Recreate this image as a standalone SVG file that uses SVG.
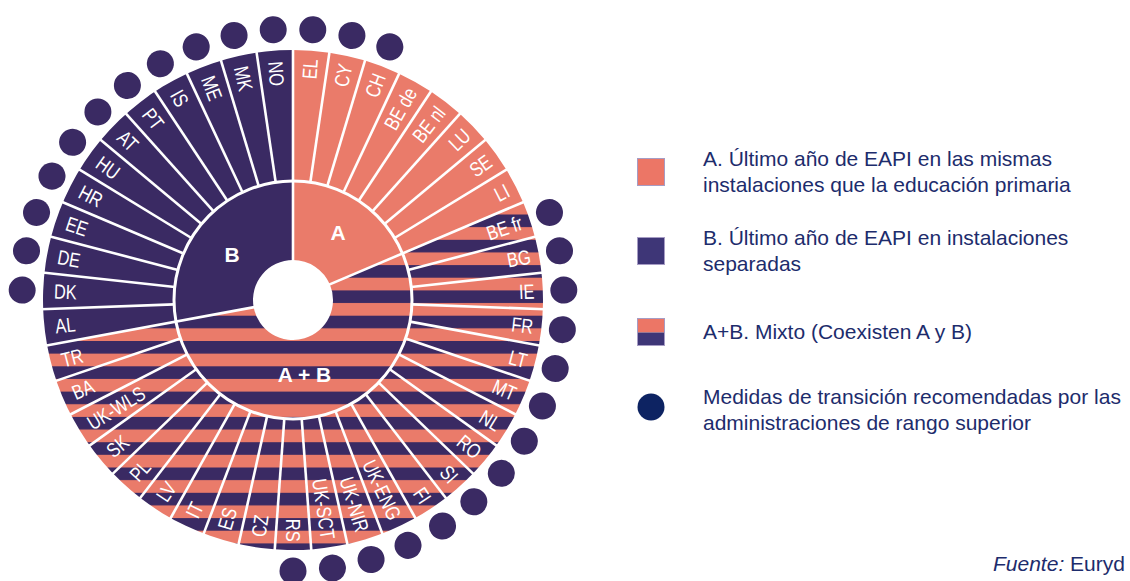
<svg xmlns="http://www.w3.org/2000/svg" xmlns:xlink="http://www.w3.org/1999/xlink" width="1130" height="581" viewBox="0 0 1130 581">
<style>
.a{fill:#EA7B6A}
.b{fill:#3A2A63}
.sepl{stroke:#fff;stroke-width:2.6}
.lbl{font-family:"Liberation Sans",Arial,sans-serif;font-size:20.5px;fill:#fff}
.big{font-family:"Liberation Sans",Arial,sans-serif;font-size:21px;font-weight:bold;fill:#fff;text-anchor:middle}
.leg{font-family:"Liberation Sans",Arial,sans-serif;font-size:21px;fill:#1D2C6C}
</style>
<defs>
<pattern id="stripes" patternUnits="userSpaceOnUse" x="0" y="214.5" width="20" height="25.3">
<rect width="20" height="25.3" fill="#EA7B6A"/>
<rect width="20" height="12.6" fill="#3A2A63"/>
</pattern>
<line id="sep" class="sepl" x1="0" y1="-119" x2="0" y2="-252"/>
<line id="sepfull" class="sepl" x1="0" y1="-38" x2="0" y2="-252"/>
<circle id="dot" cx="0" cy="-271" r="13.5" fill="#3A2A63"/>
</defs>
<rect width="1130" height="581" fill="#fff"/>
<g id="chart">
<path id="sector-A" class="a" d="M293,50 A250,250 0 0,1 523.09,202.22 L329.81,284.36 A40,40 0 0,0 293,260 Z"/>
<path id="sector-AB" fill="url(#stripes)" d="M523.09,202.22 A250,250 0 1,1 47.16,345.41 L253.67,307.27 A40,40 0 1,0 329.81,284.36 Z"/>
<path id="sector-B" class="b" d="M47.16,345.41 A250,250 0 0,1 293,50 L293,260 A40,40 0 0,0 253.67,307.27 Z"/>
<circle cx="293" cy="300" r="119" fill="none" stroke="#fff" stroke-width="3"/>
<g id="separators" transform="translate(293,300)">
<use href="#sepfull"/>
<use href="#sep" transform="rotate(8.372)"/>
<use href="#sep" transform="rotate(16.744)"/>
<use href="#sep" transform="rotate(25.116)"/>
<use href="#sep" transform="rotate(33.488)"/>
<use href="#sep" transform="rotate(41.860)"/>
<use href="#sep" transform="rotate(50.233)"/>
<use href="#sep" transform="rotate(58.605)"/>
<use href="#sepfull" transform="rotate(66.977)"/>
<use href="#sep" transform="rotate(75.349)"/>
<use href="#sep" transform="rotate(83.721)"/>
<use href="#sep" transform="rotate(92.093)"/>
<use href="#sep" transform="rotate(100.465)"/>
<use href="#sep" transform="rotate(108.837)"/>
<use href="#sep" transform="rotate(117.209)"/>
<use href="#sep" transform="rotate(125.581)"/>
<use href="#sep" transform="rotate(133.953)"/>
<use href="#sep" transform="rotate(142.326)"/>
<use href="#sep" transform="rotate(150.698)"/>
<use href="#sep" transform="rotate(159.070)"/>
<use href="#sep" transform="rotate(167.442)"/>
<use href="#sep" transform="rotate(175.814)"/>
<use href="#sep" transform="rotate(184.186)"/>
<use href="#sep" transform="rotate(192.558)"/>
<use href="#sep" transform="rotate(200.930)"/>
<use href="#sep" transform="rotate(209.302)"/>
<use href="#sep" transform="rotate(217.674)"/>
<use href="#sep" transform="rotate(226.047)"/>
<use href="#sep" transform="rotate(234.419)"/>
<use href="#sep" transform="rotate(242.791)"/>
<use href="#sep" transform="rotate(251.163)"/>
<use href="#sepfull" transform="rotate(259.535)"/>
<use href="#sep" transform="rotate(267.907)"/>
<use href="#sep" transform="rotate(276.279)"/>
<use href="#sep" transform="rotate(284.651)"/>
<use href="#sep" transform="rotate(293.023)"/>
<use href="#sep" transform="rotate(301.395)"/>
<use href="#sep" transform="rotate(309.767)"/>
<use href="#sep" transform="rotate(318.140)"/>
<use href="#sep" transform="rotate(326.512)"/>
<use href="#sep" transform="rotate(334.884)"/>
<use href="#sep" transform="rotate(343.256)"/>
<use href="#sep" transform="rotate(351.628)"/>
</g>
<g id="labels-right" class="lbl" transform="translate(293,300)" text-anchor="end">
<text transform="rotate(-85.814) scale(0.8,1)" x="302" y="7.3">EL</text>
<text transform="rotate(-77.442) scale(0.8,1)" x="302" y="7.3">CY</text>
<text transform="rotate(-69.070) scale(0.8,1)" x="302" y="7.3">CH</text>
<text transform="rotate(-60.698) scale(0.8,1)" x="302" y="7.3">BE de</text>
<text transform="rotate(-52.326) scale(0.8,1)" x="302" y="7.3">BE nl</text>
<text transform="rotate(-43.953) scale(0.8,1)" x="302" y="7.3">LU</text>
<text transform="rotate(-35.581) scale(0.8,1)" x="302" y="7.3">SE</text>
<text transform="rotate(-27.209) scale(0.8,1)" x="302" y="7.3">LI</text>
<text transform="rotate(-18.837) scale(0.8,1)" x="302" y="7.3">BE fr</text>
<text transform="rotate(-10.465) scale(0.8,1)" x="302" y="7.3">BG</text>
<text transform="rotate(-2.093) scale(0.8,1)" x="302" y="7.3">IE</text>
<text transform="rotate(6.279) scale(0.8,1)" x="302" y="7.3">FR</text>
<text transform="rotate(14.651) scale(0.8,1)" x="302" y="7.3">LT</text>
<text transform="rotate(23.023) scale(0.8,1)" x="302" y="7.3">MT</text>
<text transform="rotate(31.395) scale(0.8,1)" x="302" y="7.3">NL</text>
<text transform="rotate(39.767) scale(0.8,1)" x="302" y="7.3">RO</text>
<text transform="rotate(48.140) scale(0.8,1)" x="302" y="7.3">SI</text>
<text transform="rotate(56.512) scale(0.8,1)" x="302" y="7.3">FI</text>
<text transform="rotate(64.884) scale(0.8,1)" x="302" y="7.3">UK-ENG</text>
<text transform="rotate(73.256) scale(0.8,1)" x="302" y="7.3">UK-NIR</text>
<text transform="rotate(81.628) scale(0.8,1)" x="302" y="7.3">UK-SCT</text>
<text transform="rotate(90) scale(0.8,1)" x="302" y="7.3">RS</text>
</g>
<g id="labels-left" class="lbl" transform="translate(293,300)" text-anchor="start">
<text transform="rotate(-81.628) scale(0.8,1)" x="-299" y="7.3">CZ</text>
<text transform="rotate(-73.256) scale(0.8,1)" x="-299" y="7.3">ES</text>
<text transform="rotate(-64.884) scale(0.8,1)" x="-299" y="7.3">IT</text>
<text transform="rotate(-56.512) scale(0.8,1)" x="-299" y="7.3">LV</text>
<text transform="rotate(-48.140) scale(0.8,1)" x="-299" y="7.3">PL</text>
<text transform="rotate(-39.767) scale(0.8,1)" x="-299" y="7.3">SK</text>
<text transform="rotate(-31.395) scale(0.8,1)" x="-299" y="7.3">UK-WLS</text>
<text transform="rotate(-23.023) scale(0.8,1)" x="-299" y="7.3">BA</text>
<text transform="rotate(-14.651) scale(0.8,1)" x="-299" y="7.3">TR</text>
<text transform="rotate(-6.279) scale(0.8,1)" x="-299" y="7.3">AL</text>
<text transform="rotate(2.093) scale(0.8,1)" x="-299" y="7.3">DK</text>
<text transform="rotate(10.465) scale(0.8,1)" x="-299" y="7.3">DE</text>
<text transform="rotate(18.837) scale(0.8,1)" x="-299" y="7.3">EE</text>
<text transform="rotate(27.209) scale(0.8,1)" x="-299" y="7.3">HR</text>
<text transform="rotate(35.581) scale(0.8,1)" x="-299" y="7.3">HU</text>
<text transform="rotate(43.953) scale(0.8,1)" x="-299" y="7.3">AT</text>
<text transform="rotate(52.326) scale(0.8,1)" x="-299" y="7.3">PT</text>
<text transform="rotate(60.698) scale(0.8,1)" x="-299" y="7.3">IS</text>
<text transform="rotate(69.070) scale(0.8,1)" x="-299" y="7.3">ME</text>
<text transform="rotate(77.442) scale(0.8,1)" x="-299" y="7.3">MK</text>
<text transform="rotate(85.814) scale(0.8,1)" x="-299" y="7.3">NO</text>
</g>
<text class="big" x="338" y="240">A</text>
<text class="big" x="232" y="262">B</text>
<text class="big" x="304.5" y="382">A + B</text>
<g id="dots" transform="translate(293,300)">
<use href="#dot" transform="rotate(4.186)"/>
<use href="#dot" transform="rotate(12.558)"/>
<use href="#dot" transform="rotate(20.930)"/>
<use href="#dot" transform="rotate(71.163)"/>
<use href="#dot" transform="rotate(79.535)"/>
<use href="#dot" transform="rotate(87.907)"/>
<use href="#dot" transform="rotate(96.279)"/>
<use href="#dot" transform="rotate(104.651)"/>
<use href="#dot" transform="rotate(113.023)"/>
<use href="#dot" transform="rotate(121.395)"/>
<use href="#dot" transform="rotate(129.767)"/>
<use href="#dot" transform="rotate(138.140)"/>
<use href="#dot" transform="rotate(146.512)"/>
<use href="#dot" transform="rotate(154.884)"/>
<use href="#dot" transform="rotate(163.256)"/>
<use href="#dot" transform="rotate(171.628)"/>
<use href="#dot" transform="rotate(180)"/>
<use href="#dot" transform="rotate(272.093)"/>
<use href="#dot" transform="rotate(280.465)"/>
<use href="#dot" transform="rotate(288.837)"/>
<use href="#dot" transform="rotate(297.209)"/>
<use href="#dot" transform="rotate(305.581)"/>
<use href="#dot" transform="rotate(313.953)"/>
<use href="#dot" transform="rotate(322.326)"/>
<use href="#dot" transform="rotate(330.698)"/>
<use href="#dot" transform="rotate(339.070)"/>
<use href="#dot" transform="rotate(347.442)"/>
<use href="#dot" transform="rotate(355.814)"/>
</g>
</g>
<g id="legend">
<g id="legend-A">
<rect x="637.5" y="158.5" width="27" height="27" fill="#EC7666" stroke="#A69CC4" stroke-width="1"/>
<text class="leg" x="703" y="166">A. Último año de EAPI en las mismas</text>
<text class="leg" x="703" y="192">instalaciones que la educación primaria</text>
</g>
<g id="legend-B">
<rect x="637.5" y="237.5" width="27" height="27" fill="#3E3677" stroke="#A69CC4" stroke-width="1"/>
<text class="leg" x="703" y="245">B. Último año de EAPI en instalaciones</text>
<text class="leg" x="703" y="271">separadas</text>
</g>
<g id="legend-AB">
<rect x="637.5" y="318.5" width="27" height="14" fill="#EC7666"/>
<rect x="637.5" y="332.5" width="27" height="13" fill="#3E3677"/>
<rect x="637.5" y="318.5" width="27" height="27" fill="none" stroke="#A69CC4" stroke-width="1"/>
<text class="leg" x="703" y="339">A+B. Mixto (Coexisten A y B)</text>
</g>
<g id="legend-dot">
<circle cx="651" cy="407" r="13.5" fill="#0D2362"/>
<text class="leg" x="703" y="404">Medidas de transición recomendadas por las</text>
<text class="leg" x="703" y="430">administraciones de rango superior</text>
</g>
</g>
<text class="leg" x="993" y="571" font-size="21.5"><tspan font-style="italic">Fuente:</tspan> Euryd</text>
</svg>
